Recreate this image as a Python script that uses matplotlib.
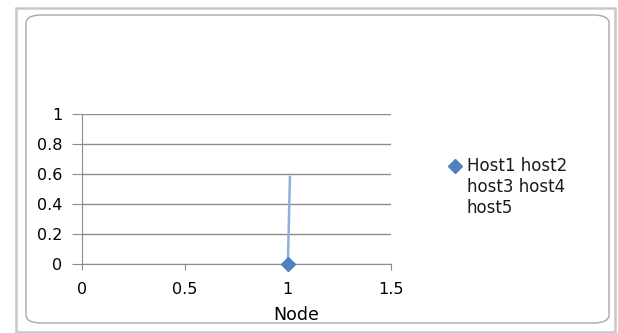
import matplotlib
matplotlib.use("Agg")
from matplotlib import patches, lines, pyplot as plt

# data
node_x = [1, 1.01]
node_y = [0, 0.58]
series_label = "Host1 host2\nhost3 host4\nhost5"
x_ticks = [0, 0.5, 1, 1.5]
x_tick_labels = ["0", "0.5", "1", "1.5"]
y_ticks = [0, 0.2, 0.4, 0.6, 0.8, 1]
y_tick_labels = ["0", "0.2", "0.4", "0.6", "0.8", "1"]

plt.rcParams['font.family'] = ['DejaVu Sans']
blue = '#4f81bd'

fig = plt.figure(figsize=(6.18, 3.33), dpi=100)
W, H = 618, 333

# outer frame (excel chart area look)
outer = patches.Rectangle((16 / W, 1 / H), 599 / W, 324 / H, transform=fig.transFigure,
                          fill=False, edgecolor='#c8c8c8', linewidth=1.8)
fig.patches.append(outer)
inner = patches.FancyBboxPatch((26 / W, 10 / H), 583 / W, 308 / H,
                               boxstyle="round,pad=0,rounding_size=0.025",
                               transform=fig.transFigure, fill=False,
                               edgecolor='#a8a8a8', linewidth=1.0)
fig.patches.append(inner)

ax = fig.add_axes([81.6 / W, 1 - 264 / H, (391 - 81.6) / W, 150 / H])
ax.plot(node_x, node_y, color='#8fb0d8', linewidth=1.8, marker='D',
        markersize=7, markerfacecolor=blue, markeredgecolor=blue,
        markevery=[0], clip_on=False, zorder=3)

ax.set_xlim(0, 1.5)
ax.set_ylim(0, 1)
ax.set_xticks(x_ticks)
ax.set_xticklabels(x_tick_labels, fontsize=11.5)
ax.set_yticks(y_ticks)
ax.set_yticklabels(y_tick_labels, fontsize=11.5)
ax.grid(True, axis='y', color='#8c8c8c', linewidth=1.0)
ax.set_axisbelow(True)
for side in ['top', 'right']:
    ax.spines[side].set_visible(False)
for side in ['left', 'bottom']:
    ax.spines[side].set_color('#8c8c8c')
ax.tick_params(axis='y', length=7, color='#8c8c8c', pad=7)
ax.tick_params(axis='x', length=4, color='#8c8c8c', pad=9)
ax.set_xlabel("Node", fontsize=12.5)
ax.xaxis.set_label_coords((296 - 81.6) / (391 - 81.6), -(306 - 264) / 150)

# legend: marker beside first line of the label
fig.lines.append(lines.Line2D([455 / W], [1 - 166 / H], marker='D', markersize=7,
                              color=blue, linestyle='None', transform=fig.transFigure))
fig.text(467 / W, 1 - 157 / H, series_label, fontsize=12, va='top', ha='left',
         linespacing=1.2, color='#1a1a1a')

fig.savefig("out.png", dpi=100)
